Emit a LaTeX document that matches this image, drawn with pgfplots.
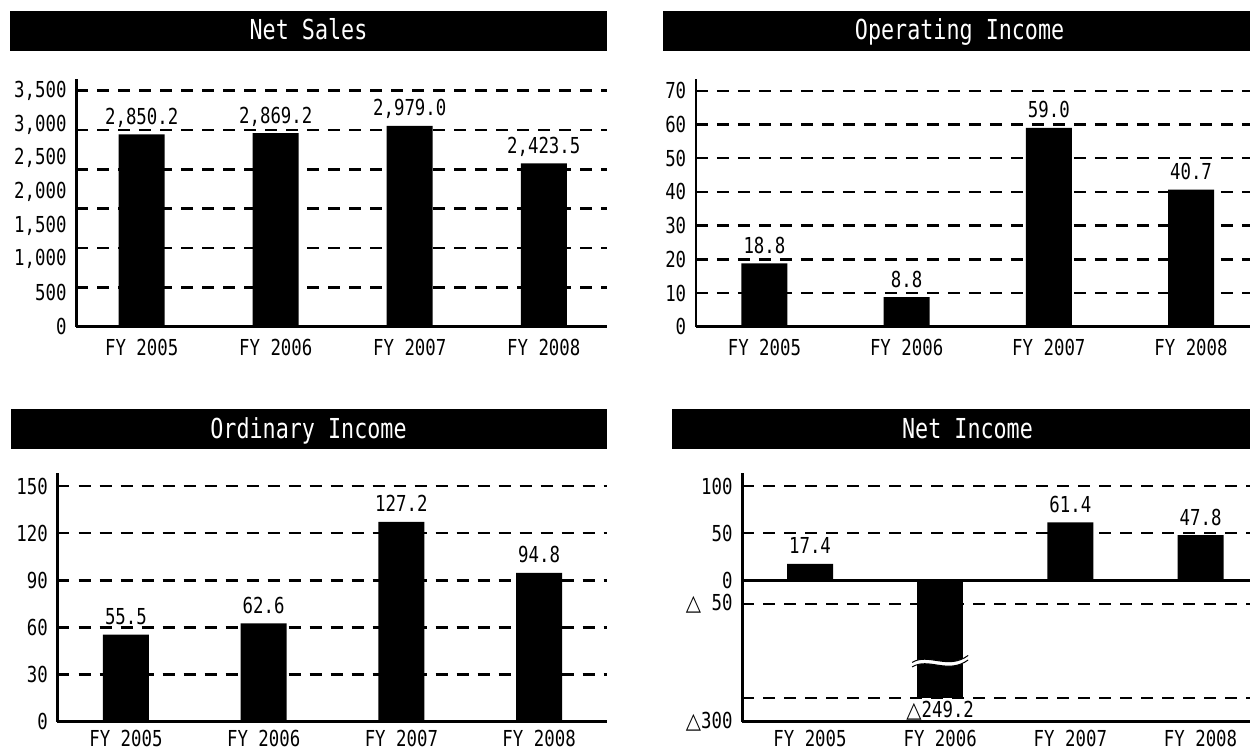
\documentclass[border=0pt]{standalone}
\usepackage{pgfplots}
\pgfplotsset{compat=1.18}
\usepackage{fontspec}
\setmainfont{DejaVu Sans Mono}[FakeStretch=0.79]
\newfontfamily\sym{DejaVu Sans}[FakeStretch=0.9]
\newcommand\tri{{\sym △}}
\newcommand\lblfont{\fontsize{22}{25}\selectfont}
\newcommand\ttlfont{\fontsize{27.5}{31}\selectfont}
\begin{document}
\begin{tikzpicture}[x=1pt,y=1pt]
\useasboundingbox (0,0) rectangle (1250,753);
\pgfplotsset{
  panel/.style={
    scale only axis, anchor=south west,
    axis x line*=bottom, axis y line*=left,
    axis line style={line width=2.6pt, -},
    x axis line style={-}, y axis line style={-},
    ybar, bar width=46pt, bar shift=0pt,
    xtick={0,1,2,3}, xticklabels={FY 2005,FY 2006,FY 2007,FY 2008},
    major tick length=0pt, minor tick num=0,
    /pgf/number format/assume math mode=true,
    tick label style={font=\lblfont, inner sep=0pt},
    yticklabel style={anchor=east, xshift=-9.5pt},
    xticklabel style={anchor=north, yshift=-12pt},
    extra y tick labels={},
    extra y tick style={grid=major, major grid style={line width=2.5pt, dash pattern=on 12pt off 9pt, black}},
    nodes near coords, point meta=explicit symbolic,
    every node near coord/.append style={font=\lblfont, inner sep=0pt, text=black},
    clip=false,
  },
  poslab/.style={nodes near coords style={anchor=base, yshift=10pt}},
  neglab/.style={nodes near coords style={anchor=north, yshift=-3pt}},
}
% title bars
\fill[black] (10,702) rectangle (607,742);
\node[text=white, anchor=base, font=\ttlfont, inner sep=0pt] at (308.5,713) {Net Sales};
\fill[black] (663.3,702) rectangle (1250,742);
\node[text=white, anchor=base, font=\ttlfont, inner sep=0pt] at (959.6,713) {Operating Income};
\fill[black] (11,304) rectangle (607,344);
\node[text=white, anchor=base, font=\ttlfont, inner sep=0pt] at (308.5,314.7) {Ordinary Income};
\fill[black] (672.3,304) rectangle (1250,344);
\node[text=white, anchor=base, font=\ttlfont, inner sep=0pt] at (967.5,314.7) {Net Income};

% Net Sales
\begin{axis}[panel, at={(76.2pt,426.3pt)}, width=530.8pt, height=247.7pt,
  xmin=-0.489, xmax=3.472, ymin=0, ymax=3673,
  ytick={0,500,1000,1500,2000,2500,3000,3500},
  yticklabels={0,500,{1,000},{1,500},{2,000},{2,500},{3,000},{3,500}},
  extra y ticks={583.33,1166.67,1750,2333.33,2916.67,3500}]
\addplot[fill=black, draw=none, poslab] table[meta=label] {
x y label
0 2850.2 2,850.2
1 2869.2 2,869.2
2 2979.0 2,979.0
3 2423.5 2,423.5
};
\end{axis}

% Operating Income
\begin{axis}[panel, at={(695.9pt,426.3pt)}, width=554.1pt, height=247.7pt,
  xmin=-0.482, xmax=3.415, ymin=0, ymax=73.5,
  ytick={0,10,20,30,40,50,60,70},
  yticklabels={0,10,20,30,40,50,60,70},
  extra y ticks={10,20,30,40,50,60,70}]
\addplot[fill=black, draw=none, poslab] table[meta=label] {
x y label
0 18.8 18.8
1 8.8 8.8
2 59.0 59.0
3 40.7 40.7
};
\end{axis}

% Ordinary Income
\begin{axis}[panel, at={(57.5pt,31.3pt)}, width=549.5pt, height=248.7pt,
  xmin=-0.497, xmax=3.493, ymin=0, ymax=158.3,
  xticklabel style={yshift=3.5pt},
  ytick={0,30,60,90,120,150},
  yticklabels={0,30,60,90,120,150},
  extra y ticks={30,60,90,120,150}]
\addplot[fill=black, draw=none, poslab] table[meta=label] {
x y label
0 55.5 55.5
1 62.6 62.6
2 127.2 127.2
3 94.8 94.8
};
\end{axis}

% Net Income (negative side drawn at half scale)
\begin{axis}[panel, at={(742.3pt,31.3pt)}, width=507.7pt, height=248.7pt,
  xmin=-0.52, xmax=3.38, ymin=-150, ymax=113.8,
  xticklabel style={yshift=3.5pt},
  y filter/.expression={y<0 ? y/2 : y},
  ytick={-150,-25,0,50,100},
  yticklabels={\tri300,\tri\ 50,0,50,100},
  extra y ticks={-125,-25,50,100}]
\addplot[fill=black, draw=none, poslab] table[meta=label] {
x y label
0 17.4 17.4
2 61.4 61.4
3 47.8 47.8
};
\addplot[fill=black, draw=none, neglab] table[meta=label] {
x y label
1 -249.2 \tri249.2
};
\draw[line width=2.6pt] (axis cs:-0.52,0) -- (axis cs:3.38,0);
\coordinate (P) at (axis cs:1,-85);
\path[fill=white] ([shift={(-28pt,-2pt)}]P) .. controls ([shift={(-12pt,8pt)}]P) and ([shift={(8pt,-10pt)}]P) .. ([shift={(28pt,5pt)}]P)
  -- ([shift={(28pt,0.5pt)}]P) .. controls ([shift={(8pt,-14.5pt)}]P) and ([shift={(-12pt,3.5pt)}]P) .. ([shift={(-28pt,-6.5pt)}]P) -- cycle;
\draw[line width=1pt] ([shift={(-28pt,-2pt)}]P) .. controls ([shift={(-12pt,8pt)}]P) and ([shift={(8pt,-10pt)}]P) .. ([shift={(28pt,5pt)}]P);
\draw[line width=1pt] ([shift={(28pt,0.5pt)}]P) .. controls ([shift={(8pt,-14.5pt)}]P) and ([shift={(-12pt,3.5pt)}]P) .. ([shift={(-28pt,-6.5pt)}]P);
\end{axis}
\end{tikzpicture}
\end{document}
